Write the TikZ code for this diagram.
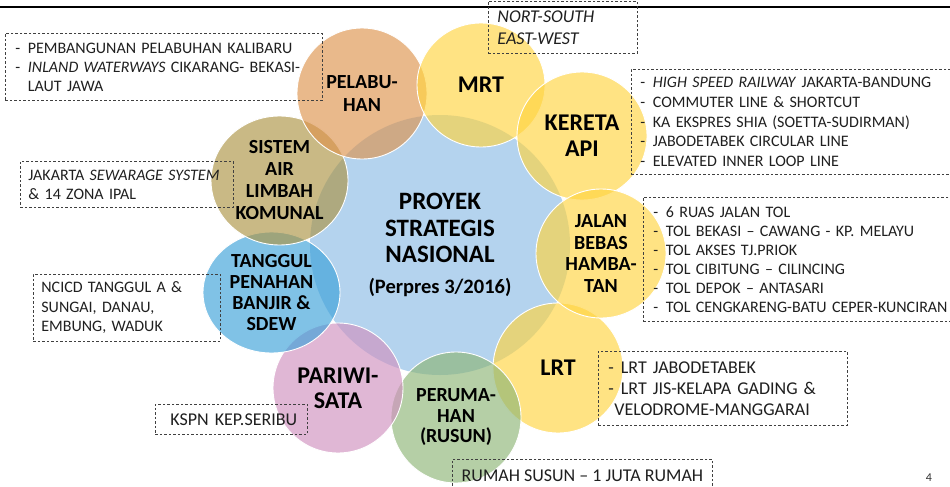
\documentclass[tikz,border=0pt]{standalone}
\usepackage{fontspec}
\setmainfont{Carlito}
\usetikzlibrary{shapes.geometric}
\definecolor{HubBlue}{HTML}{B4D3EE}
\definecolor{RailYellow}{HTML}{FFD440}
\definecolor{PortOrange}{HTML}{DD934D}
\definecolor{SewerKhaki}{HTML}{AC9444}
\definecolor{FloodSky}{HTML}{3CA1D9}
\definecolor{TourPink}{HTML}{D091BF}
\definecolor{HomeGreen}{HTML}{8DB576}
\newcommand{\dashitem}{\makebox[12.5pt][l]{-}}
\begin{document}
\begin{tikzpicture}[x=1pt, y=-1pt]
\tikzstyle{bubble}=[ellipse, draw=white, line width=0.9pt, fill opacity=0.65, text opacity=1, inner sep=0pt, align=center, font=\bfseries\fontsize{20}{22}\selectfont]
\tikzstyle{note}=[draw=black!75, line width=0.8pt, dash pattern=on 2.5pt off 2pt, anchor=north west, align=left, inner xsep=9pt, inner ysep=0pt, text=black!88, font=\fontsize{16}{19}\selectfont]
\clip (0,0) rectangle (950,487);
\draw[line width=2pt] (0,6.7) -- (950,6.7);
% centre
\node[circle, fill=HubBlue, minimum size=260pt, inner sep=0pt, align=center, font=\bfseries\fontsize{25}{26.5}\selectfont] (hub) at (440,245) {PROYEK\\STRATEGIS\\NASIONAL\\[4.5pt]{\fontsize{20.5}{20}\selectfont(Perpres 3/2016)}};
% satellites
\node[bubble, fill=RailYellow, minimum width=130pt, minimum height=130pt, font=\bfseries\fontsize{24}{26}\selectfont] (lrt) at (558,368) {LRT};
\node[bubble, fill=HomeGreen, minimum width=130pt, minimum height=131pt, font=\bfseries\fontsize{20}{20.5}\selectfont] (rusun) at (456,417.5) {PERUMA-\\HAN\\(RUSUN)};
\node[bubble, fill=TourPink, minimum width=130pt, minimum height=130pt, font=\bfseries\fontsize{24}{25}\selectfont] (wisata) at (338,388) {PARIWI-\\SATA};
\node[bubble, fill=FloodSky, minimum width=137pt, minimum height=121pt, font=\bfseries\fontsize{20}{21.3}\selectfont] (tanggul) at (271.5,292.5) {TANGGUL\\PENAHAN\\BANJIR \&\\SDEW};
\node[bubble, fill=SewerKhaki, minimum width=137pt, minimum height=129pt] (limbah) at (279.5,180.5) {SISTEM\\AIR\\LIMBAH\\KOMUNAL};
\node[bubble, fill=PortOrange, minimum width=130pt, minimum height=131pt, font=\bfseries\fontsize{20}{23}\selectfont] (pelabuhan) at (362,93.5) {PELABU-\\HAN};
\node[bubble, fill=RailYellow, minimum width=128pt, minimum height=124pt, font=\bfseries\fontsize{24}{26}\selectfont] (mrt) at (481,85) {MRT};
\node[bubble, fill=RailYellow, minimum width=130pt, minimum height=128pt, font=\bfseries\fontsize{24}{26}\selectfont] (kereta) at (582,136) {KERETA\\API};
\node[bubble, fill=RailYellow, minimum width=130pt, minimum height=129pt, font=\bfseries\fontsize{20}{21.7}\selectfont] (tol) at (601,253.5) {JALAN\\BEBAS\\HAMBA-\\TAN};
% notes
\node[note, text width=297pt, minimum height=67pt, inner xsep=10pt] (pelnote) at (5,33) {\dashitem PEMBANGUNAN PELABUHAN KALIBARU\\\dashitem\textit{INLAND WATERWAYS} CIKARANG- BEKASI-\\\hspace*{12.5pt}LAUT JAWA};
\node[note, text width=131pt, minimum height=52pt, font=\itshape\fontsize{18}{22}\selectfont] (mrtnote) at (488,1) {NORT-SOUTH\\EAST-WEST};
\node[note, text width=312pt, minimum height=105pt, font=\fontsize{16}{19.75}\selectfont] (keretanote) at (631,69) {\dashitem\textit{HIGH SPEED RAILWAY} JAKARTA-BANDUNG\\\dashitem COMMUTER LINE \& SHORTCUT\\\dashitem KA EKSPRES SHIA (SOETTA-SUDIRMAN)\\\dashitem JABODETABEK CIRCULAR LINE\\\dashitem ELEVATED INNER LOOP LINE};
\node[note, text width=300pt, minimum height=124pt, inner xsep=10pt] (tolnote) at (643,197) {\dashitem 6 RUAS JALAN TOL\\\dashitem TOL BEKASI -- CAWANG - KP. MELAYU\\\dashitem TOL AKSES TJ.PRIOK\\\dashitem TOL CIBITUNG -- CILINCING\\\dashitem TOL DEPOK -- ANTASARI\\\dashitem TOL CENGKARENG-BATU CEPER-KUNCIRAN};
\node[note, text width=229pt, minimum height=74pt, inner xsep=10pt, font=\fontsize{18}{21}\selectfont] (lrtnote) at (598,351) {\dashitem LRT JABODETABEK\\\dashitem LRT JIS-KELAPA GADING \&\\\hspace*{6pt}VELODROME-MANGGARAI};
\node[note, minimum width=260pt, minimum height=32pt, inner xsep=0pt, font=\fontsize{18}{21}\selectfont] (rusunnote) at (452,459) {RUMAH SUSUN -- 1 JUTA RUMAH};
\node[note, text width=146pt, minimum height=30pt, inner xsep=3pt, font=\fontsize{18}{21}\selectfont] (wisatanote) at (155,404) {\hspace*{12pt}KSPN KEP.SERIBU};
\node[note, text width=171pt, minimum height=67pt, inner xsep=8pt, font=\fontsize{16}{19.5}\selectfont] (tanggulnote) at (33,274) {NCICD TANGGUL A \&\\SUNGAI, DANAU,\\EMBUNG, WADUK};
\node[note, text width=197pt, minimum height=46pt, inner xsep=8pt] (limbahnote) at (20,161) {JAKARTA \textit{SEWARAGE SYSTEM}\\\& 14 ZONA IPAL};
\node[font=\fontsize{12}{14}\selectfont, text=black!80] (pageno) at (929,478) {4};
\end{tikzpicture}
\end{document}
